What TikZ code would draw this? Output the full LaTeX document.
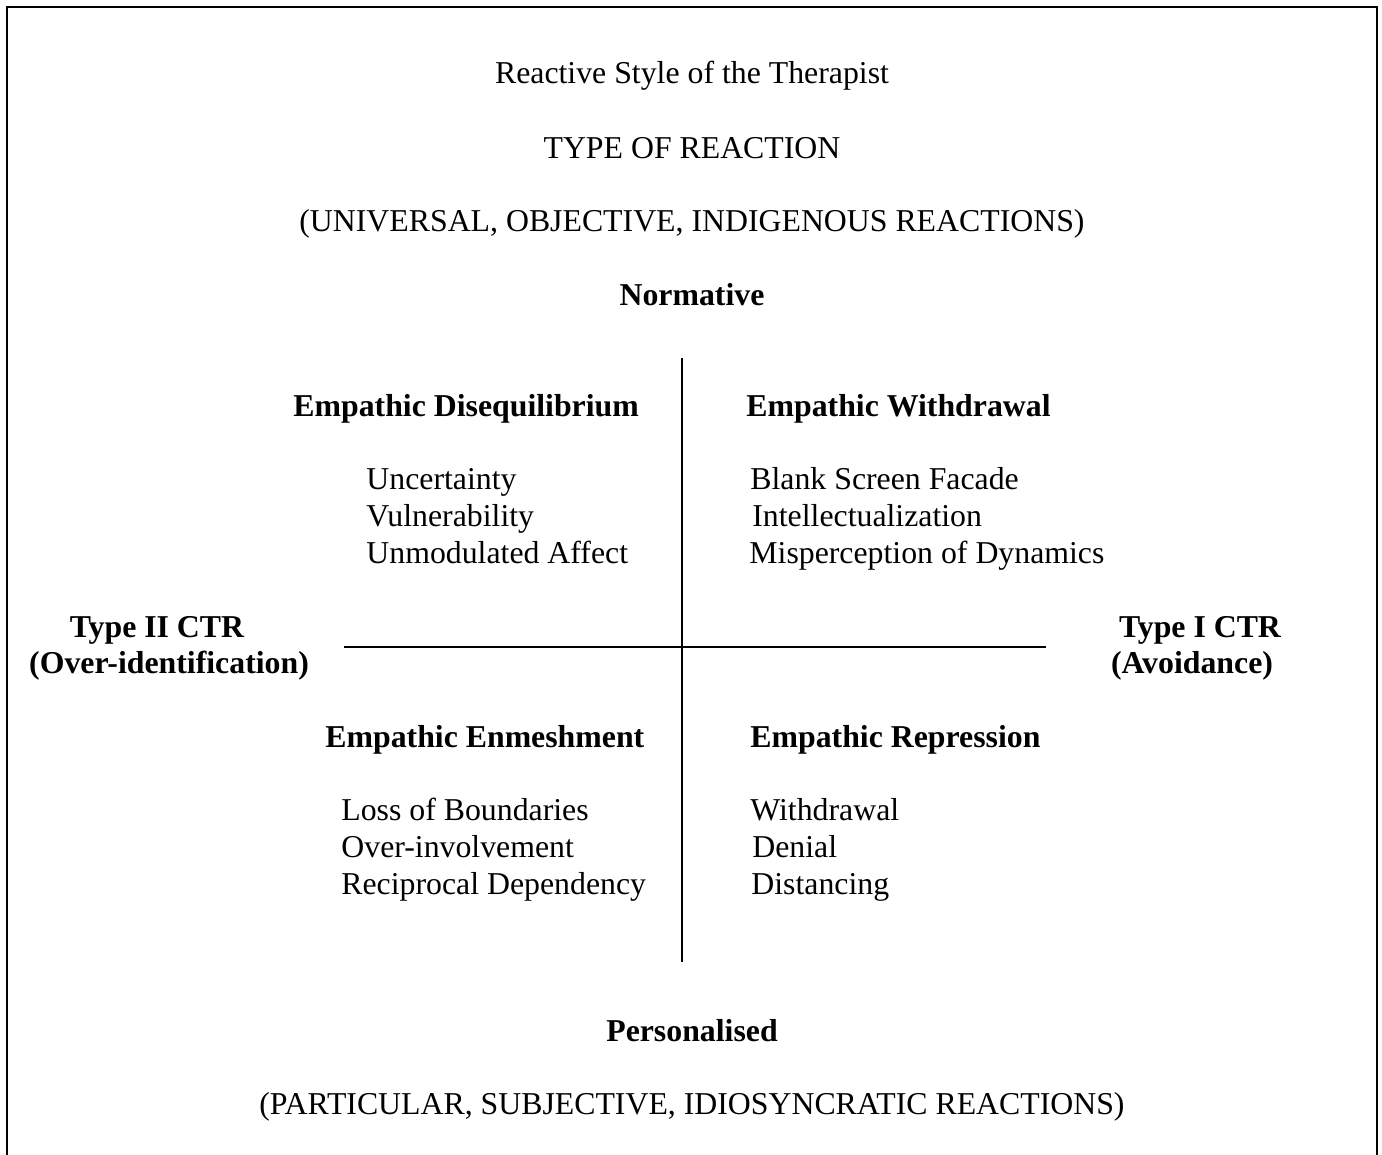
\documentclass[tikz,border=0pt]{standalone}
\usepackage{fontspec}
\setmainfont{Liberation Serif}
\begin{document}
\begin{tikzpicture}[x=0.5pt,y=-0.5pt,
  txt/.style={inner sep=0pt,font=\fontsize{15.9}{19}\selectfont},
  btxt/.style={txt,font=\fontsize{15.9}{19}\selectfont\bfseries},
  axis/.style={line width=1pt}]
\useasboundingbox (0,0) rectangle (1382,1155);
\draw[line width=1.2pt] (7,1160) -- (7,7) -- (1377,7) -- (1377,1160);
% headings
\node[txt,anchor=base] (title) at (692,84) {Reactive Style of the Therapist};
\node[txt,anchor=base] (type) at (692,159) {TYPE OF REACTION};
\node[txt,anchor=base] (univ) at (692,232) {(UNIVERSAL, OBJECTIVE, INDIGENOUS REACTIONS)};
\node[btxt,anchor=base] (norm) at (692,306) {Normative};
% axes
\coordinate (vtop) at (682,358);
\coordinate (vbot) at (682,962);
\coordinate (hl) at (344,647);
\coordinate (hr) at (1046,647);
\draw[axis] (vtop) -- (vbot);
\draw[axis] (hl) -- (hr);
% quadrant headings
\node[btxt,anchor=base west] (dis) at (293,416) {Empathic Disequilibrium};
\node[btxt,anchor=base west] (wit) at (746,416) {Empathic Withdrawal};
\node[btxt,anchor=base west] (enm) at (325,747) {Empathic Enmeshment};
\node[btxt,anchor=base west] (rep) at (750,747) {Empathic Repression};
% lists
\node[txt,anchor=base west] (l1) at (366,489) {Uncertainty};
\node[txt,anchor=base west] (l2) at (366,526) {Vulnerability};
\node[txt,anchor=base west] (l3) at (366,563) {Unmodulated Affect};
\node[txt,anchor=base west] (r1) at (750,489) {Blank Screen Facade};
\node[txt,anchor=base west] (r2) at (752,526) {Intellectualization};
\node[txt,anchor=base west] (r3) at (749,563) {Misperception of Dynamics};
\node[txt,anchor=base west] (l4) at (341,820) {Loss of Boundaries};
\node[txt,anchor=base west] (l5) at (341,857) {Over-involvement};
\node[txt,anchor=base west] (l6) at (341,894) {Reciprocal Dependency};
\node[txt,anchor=base west] (r4) at (750,820) {Withdrawal};
\node[txt,anchor=base west] (r5) at (752,857) {Denial};
\node[txt,anchor=base west] (r6) at (751,894) {Distancing};
% sides
\node[btxt,anchor=base] (t2) at (157,637) {Type II CTR};
\node[btxt,anchor=base] (t2b) at (169,673) {(Over-identification)};
\node[btxt,anchor=base] (t1) at (1200,637) {Type I CTR};
\node[btxt,anchor=base] (t1b) at (1192,673) {(Avoidance)};
% bottom
\node[btxt,anchor=base] (pers) at (692,1041) {Personalised};
\node[txt,anchor=base] (part) at (692,1114) {(PARTICULAR, SUBJECTIVE, IDIOSYNCRATIC REACTIONS)};
\end{tikzpicture}
\end{document}
